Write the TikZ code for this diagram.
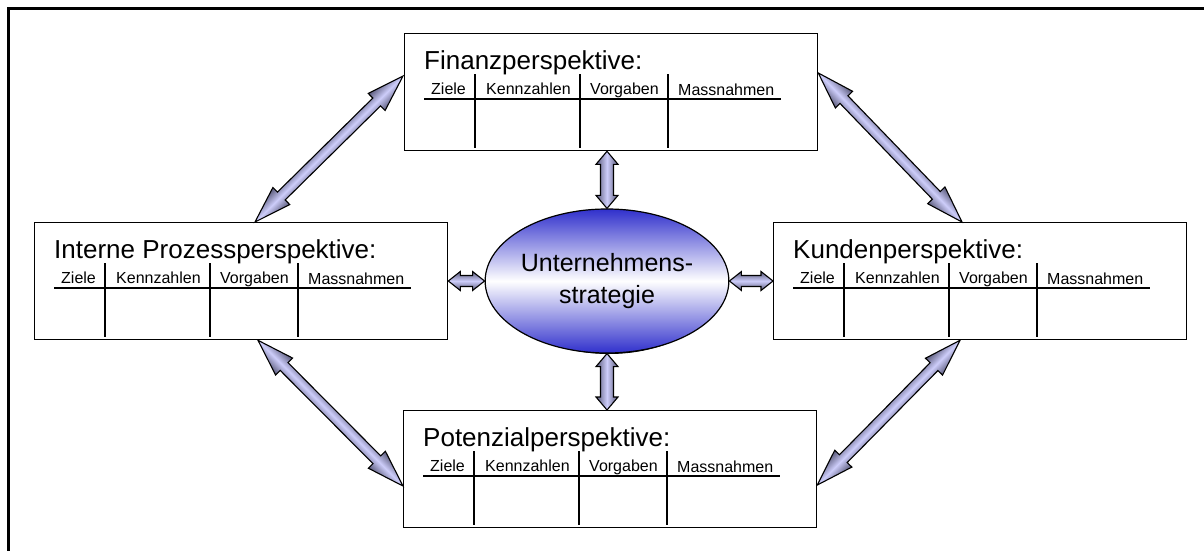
\documentclass[tikz,border=0pt]{standalone}
\usepackage{fontspec}
\setmainfont{Liberation Sans}
\usetikzlibrary{calc,shapes.geometric}

\definecolor{arrmid}{HTML}{CDCDFA}
\definecolor{arredge}{HTML}{585878}
\definecolor{ellblue}{HTML}{3030CC}

\tikzset{
  persp/.style={draw, line width=1.3pt, minimum width=413pt, minimum height=117pt,
    inner sep=0pt, anchor=north west, fill=white},
  ttl/.style={anchor=base west, inner sep=0pt, font=\fontsize{26}{31}\selectfont},
  hdr/.style={anchor=base west, inner sep=0pt, font=\fontsize{16}{19}\selectfont},
  tabrule/.style={line width=1.8pt},
  arrowbody/.style={draw=black, line width=1.1pt, line join=miter,
    top color=arredge, bottom color=arredge, middle color=arrmid},
}

% table of one perspective: title, column heads, rules
\newcommand\perspcontent[2]{%
  \begin{scope}[shift={(#1.north west)}]
    \node[ttl] (#1-title) at (20,36) {#2};
    \node[hdr] (#1-h1) at (27,61) {Ziele};
    \node[hdr] (#1-h2) at (82,61) {Kennzahlen};
    \node[hdr] (#1-h3) at (186,61) {Vorgaben};
    \node[hdr] (#1-h4) at (274,62.5) {Massnahmen};
    \draw[tabrule] (20,66) -- (377,66);
    \draw[tabrule] (71,41) -- (71,115);
    \draw[tabrule] (176,41) -- (176,115);
    \draw[tabrule] (264,41) -- (264,115);
  \end{scope}}

% shaded double-headed block arrow between two named points
% #3 head length, #4 head half width, #5 shaft half width
\newcommand\dblarrow[5]{%
  \pgfpointdiff{\pgfpointanchor{#1}{center}}{\pgfpointanchor{#2}{center}}%
  \pgfgetlastxy{\arrdx}{\arrdy}%
  \pgfmathsetmacro\arrlen{veclen(\arrdx,\arrdy)}%
  \pgfmathsetmacro\arrang{atan2(\arrdy,\arrdx)}%
  \pgfmathsetmacro\arrback{\arrlen-#3}%
  \begin{scope}[transform canvas={shift={(#1)},rotate=\arrang}]
    \path[arrowbody] (0pt,0pt) -- (#3pt,#4pt) -- (#3pt,#5pt) -- (\arrback pt,#5pt)
      -- (\arrback pt,#4pt) -- (\arrlen pt,0pt) -- (\arrback pt,-#4pt)
      -- (\arrback pt,-#5pt) -- (#3pt,-#5pt) -- (#3pt,-#4pt) -- cycle;
  \end{scope}}

\begin{document}
\begin{tikzpicture}[x=1pt,y=-1pt]
  \useasboundingbox (0,0) rectangle (1204,550);
  \fill[white] (0,0) rectangle (1204,550);

  % outer frame (runs off the page at right and bottom)
  \draw[line width=2.6pt] (8.7,552) -- (8.7,8.5) -- (1206,8.5);

  % perspectives
  \node[persp] (fin) at (404,33) {};
  \node[persp] (int) at (34,222) {};
  \node[persp] (kun) at (773,222) {};
  \node[persp] (pot) at (403,410) {};
  \perspcontent{fin}{Finanzperspektive:}
  \perspcontent{int}{Interne Prozessperspektive:}
  \perspcontent{kun}{Kundenperspektive:}
  \perspcontent{pot}{Potenzialperspektive:}

  % strategy in the centre
  \draw[line width=1pt] (609,281.5) ellipse [x radius=113pt, y radius=72pt];
  \node[ellipse, draw, line width=1.2pt, minimum width=226pt, minimum height=144pt,
        inner sep=0pt, top color=ellblue, bottom color=ellblue, middle color=white,
        align=center, font=\fontsize{25}{32}\selectfont] (ell) at (607,281)
        {Unternehmens-\\strategie};

  % arrow end points
  \coordinate (ell-n) at (ell.north);
  \coordinate (ell-s) at (ell.south);
  \coordinate (ell-w) at (ell.west);
  \coordinate (ell-e) at (ell.east);
  \coordinate (vt-a) at (ell.north |- fin.south);
  \coordinate (vb-a) at (ell.south |- pot.north);
  \coordinate (hl-a) at (int.east |- ell.west);
  \coordinate (hr-a) at (kun.west |- ell.east);
  \coordinate (tl-a) at ($(fin.north west)+(-1,43)$);
  \coordinate (tl-b) at ($(int.north west)+(221,0)$);
  \coordinate (tr-a) at ($(fin.north east)+(0,40)$);
  \coordinate (tr-b) at ($(kun.north west)+(189,0)$);
  \coordinate (br-a) at ($(kun.south west)+(187,0)$);
  \coordinate (br-b) at ($(pot.north east)+(0,75)$);
  \coordinate (bl-a) at ($(int.south west)+(224,0)$);
  \coordinate (bl-b) at ($(pot.north west)+(0,76)$);

  % connectors
  \dblarrow{vt-a}{ell-n}{13}{11}{6.5}
  \dblarrow{ell-s}{vb-a}{13}{11}{6.5}
  \dblarrow{hl-a}{ell-w}{12}{9.5}{5.5}
  \dblarrow{ell-e}{hr-a}{12}{9.5}{5.5}
  \dblarrow{tl-a}{tl-b}{37}{12}{5.5}
  \dblarrow{tr-a}{tr-b}{37}{12}{5.5}
  \dblarrow{br-a}{br-b}{37}{12}{5.5}
  \dblarrow{bl-a}{bl-b}{37}{12}{5.5}
\end{tikzpicture}
\end{document}
